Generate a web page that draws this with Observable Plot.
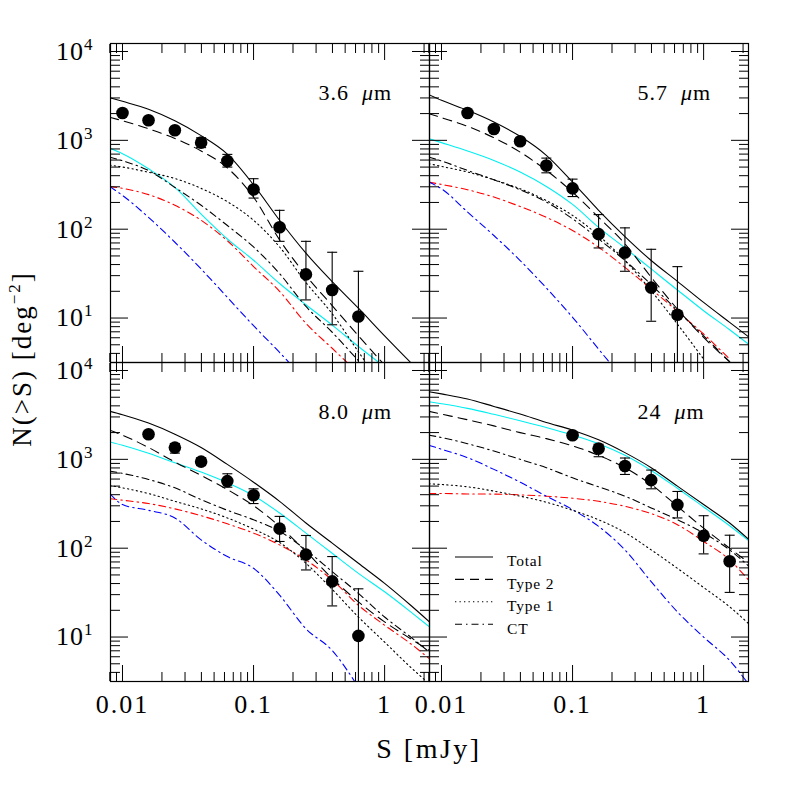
<!DOCTYPE html>
<html><head><meta charset="utf-8">
<script src="https://cdn.jsdelivr.net/npm/d3@7"></script>
<script src="https://cdn.jsdelivr.net/npm/@observablehq/plot@0.6"></script>
<style>html,body{margin:0;padding:0;background:#fff;}#chart{width:789px;height:789px;}</style>
</head><body><div id="chart"></div>
<script>
// flux grid (mJy) for model curves
const S_grid = [0.008, 0.01, 0.0158, 0.0251, 0.0398, 0.0631, 0.1, 0.158, 0.251, 0.398, 0.631, 1, 1.58, 2.2];

// 3.6 micron
const total_36 = [3020, 2750, 2240, 1660, 1130, 700, 316, 126, 53.7, 25.7, 12.9, 6.3, 3.16, 1.95];
const type2_36 = [1820, 1660, 1350, 1050, 759, 490, 229, 75.9, 30.2, 13.8, 6.3, 2.95];
const type1_36 = [525, 501, 437, 372, 288, 204, 126, 63.1, 25.1, 11.2, 4.17, 1.58];
const ct_36    = [646, 589, 457, 295, 186, 110, 63.1, 31.6, 13.5, 6.92, 3.31, 1.58];
const cyan_36  = [813, 708, 479, 295, 148, 77.6, 44.7, 24.5, 14.1, 8.32, 4.79, 2.82];
const red_36   = [302, 288, 245, 186, 126, 74.1, 38, 20, 8.71, 4.57, 2.4];
const blue_36  = [302, 240, 136, 71.3, 35.7, 17.1, 8.2, 4.1, 1.96];
// 5.7 micron
const total_57 = [3270, 2820, 2180, 1610, 1110, 678, 339, 163, 82.6, 44.4, 25.9, 15.0, 8.93, 6.15];
const type2_57 = [2000, 1800, 1440, 1070, 738, 459, 261, 136, 68.4, 28.8, 12.6, 6.05, 3.22];
const type1_57 = [546, 509, 440, 360, 285, 210, 143, 84.9, 44.4, 20.3, 8.55, 3.45];
const ct_57    = [649, 585, 459, 360, 278, 202, 131, 77.8, 44.4, 23.8, 12.1, 6.31, 3.22];
const cyan_57  = [1045, 942, 759, 594, 440, 303, 190, 105, 61.5, 35.7, 20.7, 12.1, 7.38, 5.09];
const red_57   = [339, 319, 278, 230, 180, 136, 96.6, 62.7, 37.2, 21.2, 11.9, 6.61, 3.45];
const blue_57  = [339, 285, 156, 84.9, 44.4, 21.8, 10.2, 4.47, 1.96];
// 8.0 micron
const total_80 = [3470, 3180, 2560, 1920, 1360, 877, 553, 337, 192, 114, 67.6, 40.2, 22.8, 14.8];
const type2_80 = [2130, 1870, 1360, 933, 659, 457, 301, 176, 91.6, 45.7, 24.9, 14.8, 9.57, 7.06];
const type1_80 = [508, 478, 412, 337, 277, 219, 164, 116, 67.6, 34.4, 16.8, 8.77, 4.57, 2.96];
const ct_80    = [738, 695, 594, 478, 352, 267, 209, 155, 95.7, 54.5, 31.0, 16.8, 10.0, 6.76];
const cyan_80  = [1570, 1440, 1170, 916, 719, 545, 391, 249, 148, 87.7, 52.1, 32.3, 19.2, 13.0];
const red_80   = [361, 347, 318, 277, 232, 188, 148, 109, 73.8, 43.9, 22.8, 13.6, 8.41, 5.69];
const blue_80  = [412, 310, 267, 219, 124, 80.5, 59.4, 29.6, 12.4, 7.06, 2.72];
// 24 micron
const total_24 = [5780, 5450, 4780, 3940, 3230, 2600, 2130, 1660, 1190, 805, 499, 310, 192, 126];
const type2_24 = [3470, 3230, 2790, 2380, 2000, 1710, 1420, 1110, 805, 521, 296, 168, 100, 68.9];
const type1_24 = [531, 521, 491, 439, 385, 329, 267, 209, 150, 95.7, 59.4, 36.1, 21.9, 14.2];
const ct_24    = [1870, 1760, 1500, 1240, 1000, 805, 619, 491, 385, 284, 209, 148, 95.7, 63.1];
const cyan_24  = [4460, 4230, 3750, 3210, 2720, 2280, 1880, 1500, 1110, 750, 473, 291, 179, 122];
const red_24   = [412, 412, 408, 406, 398, 385, 365, 337, 296, 245, 184, 119, 73.8, 43.9];
const blue_24  = [1440, 1300, 1045, 771, 553, 385, 272, 176, 95.7, 42.0, 19.2, 10.0, 5.45, 2.96];

// observed counts
const obsS_36  = [0.01, 0.0158, 0.0251, 0.0398, 0.0631, 0.1, 0.158, 0.251, 0.398, 0.631];
const obsN_36  = [2030, 1680, 1300, 942, 585, 280, 105, 31, 20.7, 10.4];
const obsHi_36 = [2150, 1780, 1390, 1070, 695, 370, 163, 73, 55, 33.6];
const obsLo_36 = [1920, 1590, 1210, 828, 500, 224, 73, 16, 8.4, 1];
const obsS_57  = [0.0158, 0.0251, 0.0398, 0.0631, 0.1, 0.158, 0.251, 0.398, 0.631];
const obsN_57  = [2030, 1343, 975, 522, 288, 88, 54.6, 22, 10.9];
const obsHi_57 = [2140, 1430, 1060, 631, 366, 146, 103.5, 59.4, 37.9];
const obsLo_57 = [1920, 1260, 895, 431, 233, 61.5, 33.6, 9.2, 1];
const obsS_80  = [0.0158, 0.0251, 0.0398, 0.0631, 0.1, 0.158, 0.251, 0.398, 0.631];
const obsN_80  = [1918, 1356, 942, 569, 394, 166, 84.7, 42.3, 10.3];
const obsHi_80 = [2030, 1510, 1040, 688, 466, 228, 139, 80.5, 34.9];
const obsLo_80 = [1810, 1175, 850, 486, 318, 119, 56.9, 22.4, 1];
const obsS_24  = [0.1, 0.158, 0.251, 0.398, 0.631, 1, 1.58];
const obsN_24  = [1870, 1321, 841, 583, 307, 138, 71.3];
const obsHi_24 = [1980, 1480, 1035, 757, 435, 232, 140];
const obsLo_24 = [1760, 1070, 676, 466, 219, 86.3, 31.8];

// panel labels and layout
const panelLabels = ["3.6 μm", "5.7 μm", "8.0 μm", "24 μm"];
const panelCols = ["L", "R", "L", "R"];
const panelRows = ["T", "T", "B", "B"];
const legendLabels = ["Total", "Type 2", "Type 1", "CT"];

// ticks
const xMajor = [0.01, 0.1, 1];
const xMinor = [0.008, 0.009, 0.02, 0.03, 0.04, 0.05, 0.06, 0.07, 0.08, 0.09, 0.2, 0.3, 0.4, 0.5, 0.6, 0.7, 0.8, 0.9, 2];
const yMajor = [10, 100, 1000, 10000];
const yMinor = [4, 5, 6, 7, 8, 9, 20, 30, 40, 50, 60, 70, 80, 90, 200, 300, 400, 500, 600, 700, 800, 900, 2000, 3000, 4000, 5000, 6000, 7000, 8000, 9000];

const seriesByPanel = [
  {total: total_36, type2: type2_36, type1: type1_36, ct: ct_36, cyan: cyan_36, red: red_36, blue: blue_36},
  {total: total_57, type2: type2_57, type1: type1_57, ct: ct_57, cyan: cyan_57, red: red_57, blue: blue_57},
  {total: total_80, type2: type2_80, type1: type1_80, ct: ct_80, cyan: cyan_80, red: red_80, blue: blue_80},
  {total: total_24, type2: type2_24, type1: type1_24, ct: ct_24, cyan: cyan_24, red: red_24, blue: blue_24}
];
const obsByPanel = [
  [obsS_36, obsN_36, obsHi_36, obsLo_36],
  [obsS_57, obsN_57, obsHi_57, obsLo_57],
  [obsS_80, obsN_80, obsHi_80, obsLo_80],
  [obsS_24, obsN_24, obsHi_24, obsLo_24]
];

const lineRows = [];
seriesByPanel.forEach((ser, p) => {
  for (const [name, arr] of Object.entries(ser)) {
    arr.forEach((v, i) => lineRows.push({col: panelCols[p], row: panelRows[p], series: name, S: S_grid[i], N: v}));
  }
});
const obsRows = [];
const capRows = [];
obsByPanel.forEach(([S, N, hi, lo], p) => {
  S.forEach((s, i) => {
    obsRows.push({col: panelCols[p], row: panelRows[p], S: s, N: N[i], hi: hi[i], lo: lo[i]});
    capRows.push({col: panelCols[p], row: panelRows[p], S: s, v: hi[i]});
    capRows.push({col: panelCols[p], row: panelRows[p], S: s, v: lo[i]});
  });
});
const labelRows = panelLabels.map((t, p) => ({col: panelCols[p], row: panelRows[p], label: t}));

const dashDot = "7,4,1.5,4";
const styles = {
  cyan:  {stroke: "#00eef0", strokeWidth: 1.1},
  red:   {stroke: "#ff0000", strokeWidth: 1.1, strokeDasharray: dashDot},
  blue:  {stroke: "#0000ff", strokeWidth: 1.1, strokeDasharray: dashDot},
  ct:    {stroke: "#000", strokeWidth: 1.1, strokeDasharray: dashDot},
  type1: {stroke: "#000", strokeWidth: 1.1, strokeDasharray: "1.3,3.2"},
  type2: {stroke: "#000", strokeWidth: 1.1, strokeDasharray: "9,6"},
  total: {stroke: "#000", strokeWidth: 1.1}
};

const capSymbol = {draw(ctx, size) { const w = Math.sqrt(size / Math.PI); ctx.moveTo(-w, 0); ctx.lineTo(w, 0); }};
const FONT = "Liberation Serif";

const marks = [];
for (const name of ["cyan", "red", "blue", "ct", "type1", "type2", "total"]) {
  marks.push(Plot.line(lineRows.filter(d => d.series === name), {
    x: "S", y: "N", fx: "col", fy: "row", curve: "monotone-x", clip: true, ...styles[name]
  }));
}
marks.push(Plot.ruleX(obsRows, {x: "S", y1: "lo", y2: "hi", fx: "col", fy: "row", stroke: "#000", strokeWidth: 1.1, clip: true}));
marks.push(Plot.dot(capRows, {x: "S", y: "v", fx: "col", fy: "row", symbol: capSymbol, r: 5, stroke: "#000", fill: "none", strokeWidth: 1.1, clip: true}));
marks.push(Plot.dot(obsRows, {x: "S", y: "N", fx: "col", fy: "row", r: 6.3, fill: "#000", stroke: "none", clip: true}));
marks.push(Plot.text(labelRows, {fx: "col", fy: "row", text: "label", frameAnchor: "top-left", dx: 208, dy: 49,
  textAnchor: "start", lineAnchor: "middle", fontSize: 22, fontFamily: FONT, fill: "#000"}));

// inward ticks on all four sides of every panel
const blank = () => "";
for (const anchor of ["top", "bottom"]) {
  marks.push(Plot.axisX(xMajor, {anchor, tickSize: -16, tickFormat: blank, facetAnchor: null, label: null}));
  marks.push(Plot.axisX(xMinor, {anchor, tickSize: -9, tickFormat: blank, facetAnchor: null, label: null}));
}
for (const anchor of ["left", "right"]) {
  marks.push(Plot.axisY(yMajor, {anchor, tickSize: -18, tickFormat: blank, facetAnchor: null, label: null}));
  marks.push(Plot.axisY(yMinor, {anchor, tickSize: -10, tickFormat: blank, facetAnchor: null, label: null}));
}
// tick labels
marks.push(Plot.axisX(xMajor, {anchor: "bottom", tickSize: 0, tickPadding: 13, tickFormat: d => String(d),
  fontSize: 26, fontFamily: FONT, label: null}));
marks.push(Plot.axisY(yMajor, {anchor: "left", tickSize: 0, tickPadding: 17, tickFormat: d => "10^" + Math.round(Math.log10(d)),
  fontSize: 26, fontFamily: FONT, label: null}));
marks.push(Plot.frame({stroke: "#000", strokeWidth: 1.2}));

const svg = Plot.plot({
  width: 789, height: 789,
  marginLeft: 110, marginRight: 41, marginTop: 43, marginBottom: 108,
  x: {type: "log", domain: [0.0081, 2.2]},
  y: {type: "log", domain: [3.16, 12300]},
  fx: {domain: ["L", "R"], padding: 0, axis: null, label: null},
  fy: {domain: ["T", "B"], padding: 0, axis: null, label: null},
  style: {background: "#fff", color: "#000", fontFamily: FONT},
  marks
});

const NS = "http://www.w3.org/2000/svg";
svg.querySelectorAll("text").forEach(t => {
  const s = t.textContent;
  const m = s.match(/^10\^(-?\d+)$/);
  if (m) {
    t.textContent = "10";
    const ts = document.createElementNS(NS, "tspan");
    ts.setAttribute("dy", "-10");
    ts.setAttribute("font-size", "17");
    ts.textContent = m[1];
    t.appendChild(ts);
    t.style.letterSpacing = "1px";
  } else if (/μm$/.test(s)) {
    const num = s.replace(/\s*μm$/, "");
    t.textContent = num + "\u00a0\u00a0";
    const mu = document.createElementNS(NS, "tspan");
    mu.setAttribute("font-style", "italic");
    mu.textContent = "μ";
    t.appendChild(mu);
    t.appendChild(document.createTextNode("m"));
    t.style.letterSpacing = "1px";
  } else if (/^[0-9.]+$/.test(s)) {
    t.style.letterSpacing = "2px";
  }
});

const sel = d3.select(svg);
// axis titles
sel.append("text").attr("x", 429).attr("y", 758).attr("text-anchor", "middle")
  .attr("font-family", FONT).attr("font-size", 28).attr("fill", "#000").style("letter-spacing", "2.5px")
  .text("S [mJy]");
const yt = sel.append("text").attr("transform", "translate(31,359) rotate(-90)").attr("text-anchor", "middle")
  .attr("font-family", FONT).attr("font-size", 27).attr("fill", "#000").style("letter-spacing", "2px");
yt.append("tspan").text("N(>S) [deg");
yt.append("tspan").attr("dy", -11).attr("font-size", 17).text("−2");
yt.append("tspan").attr("dy", 11).text("]");

// legend inside the 24 micron panel
const legendStyles = [styles.total, styles.type2, styles.type1, styles.ct];
const lg = sel.append("g").attr("transform", "translate(429,362)").attr("text-anchor", "start");
legendLabels.forEach((lab, i) => {
  const y = 199 + i * 22.4;
  lg.append("line").attr("x1", 26).attr("x2", 64).attr("y1", y - 4).attr("y2", y - 4)
    .attr("stroke", "#000").attr("stroke-width", 1.1)
    .attr("stroke-dasharray", legendStyles[i].strokeDasharray || null);
  lg.append("text").attr("x", 78).attr("y", y).attr("dy", "0.35em").attr("text-anchor", "start")
    .attr("font-family", FONT).attr("font-size", 15.5).attr("fill", "#000").style("letter-spacing", "0.8px")
    .text(lab);
});

document.getElementById("chart").appendChild(svg);
</script>
</body></html>
